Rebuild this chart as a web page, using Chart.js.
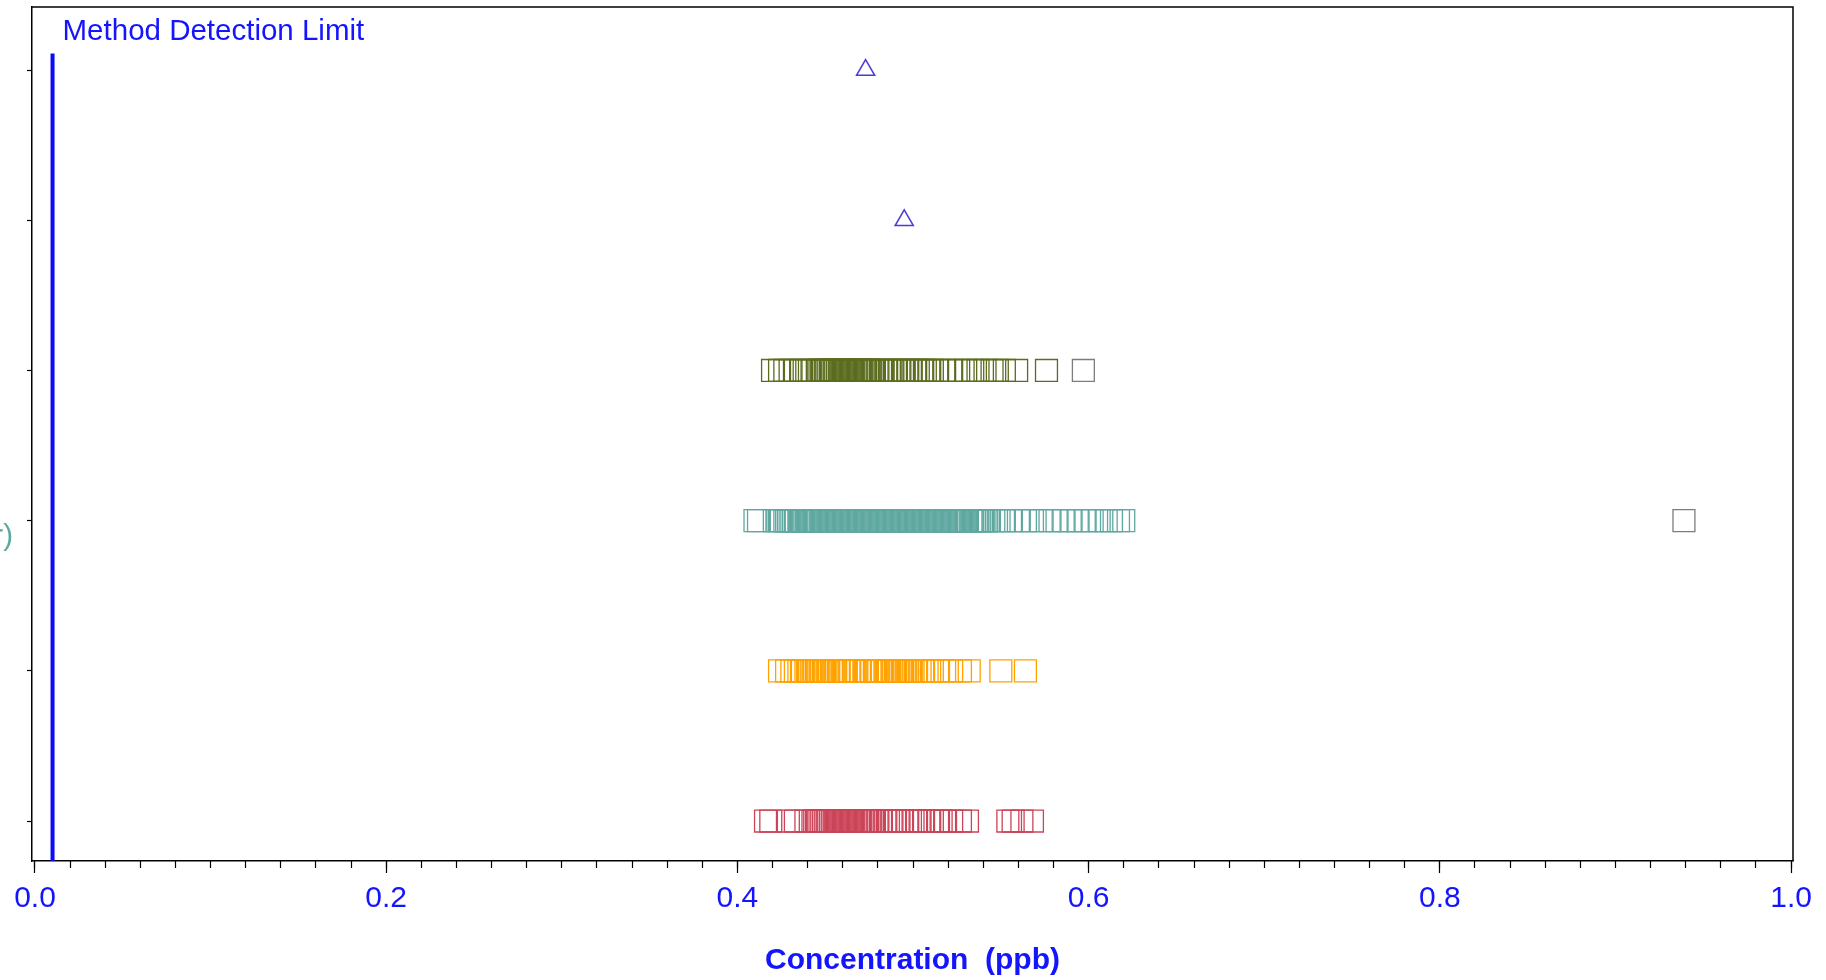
<!DOCTYPE html>
<html>
<head>
<meta charset="utf-8">
<script src="https://cdn.jsdelivr.net/npm/chart.js@4.4.0/dist/chart.umd.min.js"></script>
<style>
  html, body { margin: 0; padding: 0; background: #fff; }
</style>
</head>
<body>
<canvas id="grafico" width="1826" height="980"></canvas>
<script>
// rows, top to bottom
const rowLevels = [6, 5, 4, 3, 2, 1];

const triangleTop = [0.473];
const triangleSecond = [0.495];

const oliveValues = [0.420, 0.424, 0.427, 0.430, 0.433, 0.436, 0.438, 0.441, 0.443,
  0.446, 0.447, 0.448, 0.449, 0.450, 0.451, 0.452, 0.453, 0.454, 0.455, 0.456, 0.457, 0.458, 0.459,
  0.460, 0.461, 0.462, 0.463, 0.464, 0.465, 0.466, 0.467, 0.468, 0.469, 0.470, 0.471, 0.472, 0.473,
  0.474, 0.475, 0.476, 0.477, 0.478,
  0.480, 0.482, 0.483, 0.485, 0.487, 0.488, 0.490, 0.492, 0.494, 0.495, 0.497, 0.499, 0.501, 0.503,
  0.505, 0.507, 0.509, 0.511, 0.514, 0.518, 0.522, 0.526, 0.530, 0.534, 0.537, 0.541, 0.545, 0.548,
  0.552, 0.559, 0.576, 0.597];

const tealValues = [0.410, 0.412, 0.421, 0.423, 0.424, 0.425, 0.427, 0.428, 0.429,
  0.430, 0.431, 0.432, 0.433, 0.435, 0.436, 0.437, 0.438, 0.439, 0.440, 0.441, 0.442, 0.443, 0.444,
  0.445, 0.446, 0.447, 0.448, 0.449, 0.450, 0.451, 0.452, 0.453, 0.454, 0.455, 0.456, 0.457, 0.458,
  0.459, 0.460, 0.461, 0.462, 0.463, 0.464, 0.465, 0.466, 0.467, 0.468, 0.469, 0.470, 0.471, 0.472,
  0.473, 0.474, 0.475, 0.476, 0.477, 0.478, 0.479, 0.480, 0.481, 0.482, 0.483, 0.484, 0.485, 0.486,
  0.487, 0.488, 0.489, 0.490, 0.491, 0.492, 0.493, 0.494, 0.495, 0.496, 0.497, 0.498, 0.499, 0.500,
  0.501, 0.502, 0.503, 0.504, 0.505, 0.506, 0.507, 0.508, 0.509, 0.510, 0.511, 0.512, 0.513, 0.514,
  0.515, 0.516, 0.517, 0.518, 0.519, 0.520, 0.521, 0.522, 0.523, 0.524, 0.525, 0.526, 0.527, 0.528,
  0.529, 0.530, 0.531, 0.533, 0.534, 0.535, 0.536, 0.537, 0.538, 0.539, 0.540, 0.541, 0.542, 0.543,
  0.546, 0.549, 0.552, 0.556, 0.560, 0.564, 0.568, 0.573, 0.578, 0.582, 0.586, 0.590, 0.594, 0.598,
  0.602, 0.606, 0.610, 0.613, 0.617, 0.620, 0.939];

const orangeValues = [0.424, 0.428, 0.431, 0.433, 0.435, 0.437, 0.439,
  0.440, 0.441, 0.442, 0.443, 0.444, 0.445, 0.446, 0.447, 0.448, 0.449, 0.450, 0.451, 0.452,
  0.454, 0.455, 0.456, 0.458, 0.460, 0.461, 0.462, 0.464, 0.466, 0.467, 0.468, 0.470, 0.472, 0.473,
  0.474, 0.476, 0.478, 0.479, 0.480, 0.482, 0.484, 0.485, 0.486, 0.488, 0.489, 0.490, 0.491, 0.492,
  0.493, 0.494, 0.495, 0.496, 0.497, 0.498, 0.499, 0.500, 0.502, 0.504, 0.506, 0.508, 0.511, 0.514,
  0.518, 0.522, 0.527, 0.532, 0.550, 0.564];

const redValues = [0.416, 0.419, 0.429, 0.433, 0.439,
  0.443, 0.444, 0.445, 0.446, 0.447, 0.448, 0.449, 0.450, 0.451, 0.452, 0.453, 0.454, 0.455, 0.456,
  0.457, 0.458, 0.459, 0.460, 0.461, 0.462, 0.463, 0.464, 0.465, 0.466, 0.467, 0.468, 0.469, 0.470,
  0.471, 0.472, 0.473, 0.474, 0.475, 0.476, 0.477, 0.478,
  0.480, 0.482, 0.484, 0.486, 0.488, 0.490, 0.492, 0.494, 0.497, 0.500, 0.502, 0.504, 0.506, 0.509,
  0.511, 0.514, 0.516, 0.518, 0.522, 0.527, 0.531, 0.554, 0.557, 0.562, 0.568];

const mdlValue = 0.01;
const mdlSpan = [0.734, 6.11];

const xMajorTicks = [0, 0.2, 0.4, 0.6, 0.8, 1.0];
const xMinorStep = 0.02;

const blue = '#1414ff';
const triColor = '#4a3ad8';
const oliveColor = '#5b6c1f';
const tealColor = '#5fa8a0';
const orangeColor = '#ffa200';
const redColor = '#cc4458';
const greyColor = '#7d7d7d';
const fontFamily = '"Liberation Sans", Arial, sans-serif';

function toPoints(values, level) {
  return values.map(v => ({ x: v, y: level }));
}

function squareSet(label, values, level, color, greyAbove) {
  return {
    label: label,
    data: toPoints(values, level),
    showLine: false,
    pointStyle: 'rect',
    pointRadius: 15.5,
    pointHoverRadius: 15.5,
    pointBorderWidth: 1.3,
    pointBackgroundColor: 'rgba(0,0,0,0)',
    pointBorderColor: ctx => (ctx.raw && ctx.raw.x > greyAbove) ? greyColor : color
  };
}

function triangleSet(label, values, level) {
  return {
    label: label,
    data: toPoints(values, level),
    showLine: false,
    pointStyle: 'triangle',
    pointRadius: 10.5,
    pointHoverRadius: 10.5,
    pointBorderWidth: 1.5,
    pointBackgroundColor: 'rgba(0,0,0,0)',
    pointBorderColor: triColor
  };
}

const minorTicks = [];
for (let i = 0; i <= 50; i++) minorTicks.push(Math.round(i * xMinorStep * 100) / 100);

const decorations = {
  id: 'decorations',
  afterDraw(chart) {
    const { ctx, chartArea, scales } = chart;
    ctx.save();
    ctx.strokeStyle = '#000';
    ctx.lineWidth = 1.5;
    ctx.beginPath();
    ctx.moveTo(chartArea.left, chartArea.top);
    ctx.lineTo(chartArea.right, chartArea.top);
    ctx.lineTo(chartArea.right, chartArea.bottom);
    ctx.stroke();

    ctx.font = '29.5px ' + fontFamily;
    ctx.textBaseline = 'middle';
    ctx.fillStyle = blue;
    ctx.fillText('Method Detection Limit', scales.x.getPixelForValue(mdlValue) + 10, chartArea.top + 25);

    ctx.fillStyle = tealColor;
    ctx.textAlign = 'right';
    ctx.fillText('r)', 13, 537);
    ctx.restore();
  }
};

const Grafico = document.getElementById('grafico');
const myChart = new Chart(Grafico, {
  type: 'scatter',
  data: {
    datasets: [
      {
        label: 'Method Detection Limit',
        type: 'line',
        data: mdlSpan.map(y => ({ x: mdlValue, y: y })),
        borderColor: '#0a0aff',
        borderWidth: 4,
        pointRadius: 0,
        fill: false
      },
      triangleSet('Row 1', triangleTop, rowLevels[0]),
      triangleSet('Row 2', triangleSecond, rowLevels[1]),
      squareSet('Row 3', oliveValues, rowLevels[2], oliveColor, 0.59),
      squareSet('Row 4', tealValues, rowLevels[3], tealColor, 0.9),
      squareSet('Row 5', orangeValues, rowLevels[4], orangeColor, 2),
      squareSet('Row 6', redValues, rowLevels[5], redColor, 2)
    ]
  },
  options: {
    responsive: false,
    animation: false,
    layout: { autoPadding: false, padding: { top: 7, right: 33, left: 0, bottom: 0 } },
    plugins: {
      legend: { display: false },
      tooltip: { enabled: false }
    },
    scales: {
      x: {
        type: 'linear',
        position: 'bottom',
        weight: 1,
        min: -0.0017,
        max: 1.0011,
        afterBuildTicks: scale => { scale.ticks = xMajorTicks.map(v => ({ value: v })); },
        afterFit: scale => { scale.height = 119; },
        grid: { drawOnChartArea: false, tickLength: 12, tickColor: '#000', tickWidth: 1.2 },
        border: { display: true, color: '#000', width: 1.5 },
        ticks: {
          color: blue,
          padding: 8,
          maxRotation: 0,
          font: { family: fontFamily, size: 30 },
          callback: value => Number(value).toFixed(1)
        },
        title: {
          display: true,
          text: 'Concentration  (ppb)',
          color: blue,
          padding: { top: 0, bottom: 1 },
          font: { family: fontFamily, size: 30, weight: 'bold' }
        }
      },
      xMinor: {
        type: 'linear',
        position: 'bottom',
        weight: 0,
        min: -0.0017,
        max: 1.0011,
        afterBuildTicks: scale => { scale.ticks = minorTicks.map(v => ({ value: v })); },
        afterFit: scale => { scale.height = 0; },
        grid: { drawOnChartArea: false, tickLength: 7, tickColor: '#000', tickWidth: 1.2 },
        border: { display: false },
        ticks: { display: false }
      },
      y: {
        type: 'linear',
        position: 'left',
        min: 0.734,
        max: 6.42,
        afterBuildTicks: scale => { scale.ticks = rowLevels.map(v => ({ value: v })); },
        afterFit: scale => { scale.width = 32; },
        grid: { drawOnChartArea: false, tickLength: 5, tickColor: '#000', tickWidth: 1.2 },
        border: { display: true, color: '#000', width: 1.5 },
        ticks: { display: false }
      }
    }
  },
  plugins: [decorations]
});
</script>
</body>
</html>
